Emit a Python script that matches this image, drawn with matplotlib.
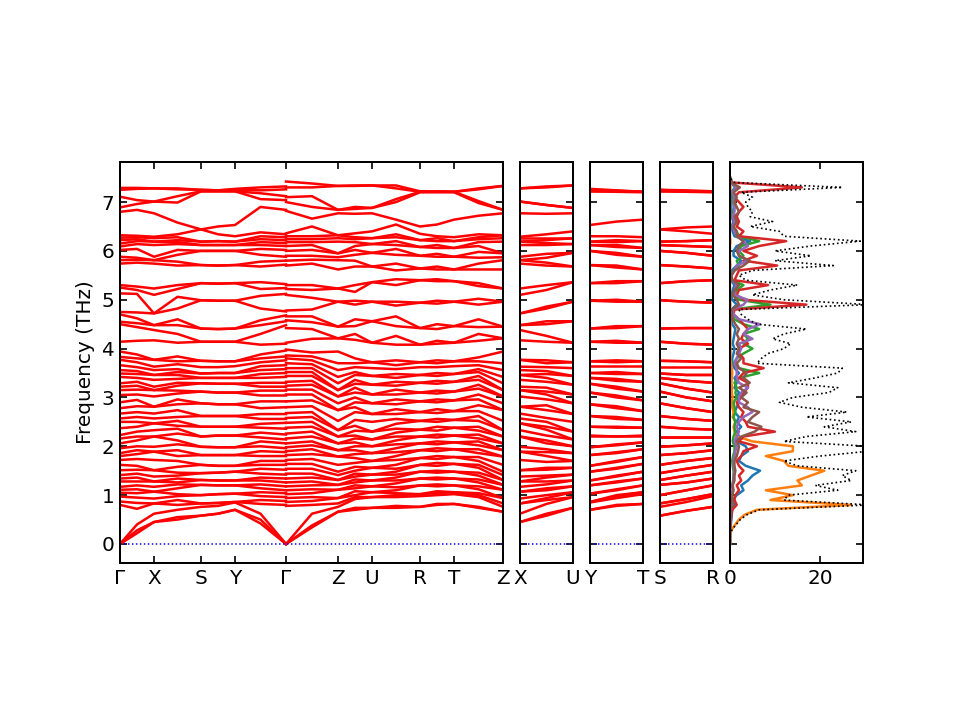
import numpy as np
import matplotlib.pyplot as plt

plt.rcParams['font.size'] = 12

# ----- k-path distances (same units as the x axes) -----
k_path1 = [0, 17, 34, 57.5, 81, 98, 115, 140.5, 166]                 # G-X-S-Y-G
k_path2 = [166, 192, 218, 235, 252, 276, 300, 317, 334, 358.5, 383]  # G-Z-U-R-T-Z
k_short = [0, 26.5, 53]                                              # X-U, Y-T, S-R
main_ticks = [0, 34, 81, 115, 166, 218, 252, 300, 334, 383]
main_labels = ['Γ', 'X', 'S', 'Y', 'Γ', 'Z', 'U', 'R', 'T', 'Z']

# ----- phonon frequencies (THz) read at each k column -----
f_G1 = [0, 0, 0,
        0.80, 0.87, 0.97, 1.05, 1.11, 1.17, 1.28, 1.34, 1.41, 1.51, 1.62, 1.72, 1.80, 1.86,
        1.96, 2.06, 2.16, 2.23, 2.37, 2.50, 2.57, 2.67, 2.78, 2.90, 3.05, 3.15, 3.22, 3.29,
        3.42, 3.49, 3.56, 3.66, 3.77, 3.83, 3.94,
        4.14, 4.50, 4.55, 4.70, 4.75, 5.13, 5.25, 5.30,
        5.74, 5.81, 5.88, 6.02, 6.09, 6.15, 6.22, 6.27, 6.32,
        6.80, 6.89, 7.11, 7.25, 7.29]
f_GX = [0.22, 0.28, 0.40,
        0.72, 0.84, 0.95, 1.04, 1.12, 1.20, 1.28, 1.36, 1.44, 1.52, 1.60, 1.74, 1.84, 1.92,
        2.00, 2.12, 2.20, 2.30, 2.40, 2.50, 2.60, 2.70, 2.82, 2.95, 3.06, 3.16, 3.24, 3.32,
        3.40, 3.48, 3.54, 3.62, 3.72, 3.80, 3.88,
        4.16, 4.44, 4.52, 4.62, 4.74, 5.12, 5.20, 5.27,
        5.76, 5.82, 5.86, 6.04, 6.14, 6.20, 6.24, 6.28, 6.31,
        6.84, 6.96, 7.04, 7.27, 7.29]
f_X = [0.45, 0.45, 0.62,
       0.83, 0.83, 0.93, 1.07, 1.07, 1.17, 1.28, 1.28, 1.38, 1.51, 1.51, 1.72, 1.89, 1.89,
       1.99, 2.20, 2.20, 2.33, 2.47, 2.47, 2.57, 2.67, 2.81, 2.81, 3.02, 3.15, 3.15, 3.22,
       3.36, 3.46, 3.46, 3.56, 3.63, 3.77, 3.77,
       4.17, 4.38, 4.48, 4.48, 4.72, 4.72, 5.10, 5.23,
       5.74, 5.81, 5.81, 5.88, 6.12, 6.19, 6.19, 6.26, 6.29,
       6.77, 7.01, 7.01, 7.28, 7.28]
f_XS = [0.50, 0.55, 0.70,
        0.80, 0.90, 0.98, 1.02, 1.14, 1.22, 1.26, 1.34, 1.40, 1.46, 1.58, 1.70, 1.80, 1.92,
        2.04, 2.12, 2.26, 2.36, 2.42, 2.52, 2.60, 2.74, 2.86, 2.96, 3.08, 3.14, 3.24, 3.30,
        3.38, 3.46, 3.52, 3.58, 3.68, 3.74, 3.84,
        4.12, 4.30, 4.48, 4.60, 4.82, 5.06, 5.22, 5.30,
        5.70, 5.78, 5.92, 6.02, 6.14, 6.18, 6.22, 6.28, 6.34,
        6.58, 6.99, 7.12, 7.26, 7.28]
f_S = [0.58, 0.58, 0.76,
       0.83, 0.83, 1.00, 1.00, 1.21, 1.21, 1.31, 1.31, 1.45, 1.45, 1.62, 1.62, 1.82, 1.82,
       1.99, 1.99, 2.20, 2.20, 2.40, 2.40, 2.62, 2.62, 2.88, 2.88, 3.12, 3.12, 3.29, 3.29,
       3.40, 3.40, 3.49, 3.49, 3.62, 3.75, 3.75,
       4.14, 4.14, 4.41, 4.41, 4.99, 4.99, 5.34, 5.34,
       5.71, 5.71, 6.00, 6.00, 6.12, 6.12, 6.19, 6.19, 6.44,
       6.44, 7.22, 7.22, 7.25, 7.25]
f_SY = [0.62, 0.62, 0.78,
        0.84, 0.84, 1.02, 1.02, 1.20, 1.20, 1.30, 1.30, 1.46, 1.46, 1.60, 1.60, 1.82, 1.82,
        1.98, 1.98, 2.22, 2.22, 2.40, 2.40, 2.62, 2.62, 2.86, 2.86, 3.10, 3.10, 3.28, 3.28,
        3.40, 3.40, 3.50, 3.50, 3.62, 3.74, 3.74,
        4.14, 4.14, 4.40, 4.40, 4.98, 4.98, 5.33, 5.33,
        5.70, 5.70, 6.00, 6.00, 6.12, 6.12, 6.20, 6.20, 6.34,
        6.50, 7.22, 7.22, 7.24, 7.24]
f_Y = [0.70, 0.70, 0.85,
       0.86, 0.86, 1.03, 1.03, 1.20, 1.20, 1.30, 1.30, 1.48, 1.48, 1.60, 1.60, 1.82, 1.82,
       1.98, 1.98, 2.22, 2.22, 2.40, 2.40, 2.62, 2.62, 2.86, 2.86, 3.10, 3.10, 3.28, 3.28,
       3.40, 3.40, 3.50, 3.50, 3.64, 3.74, 3.74,
       4.14, 4.14, 4.41, 4.41, 4.98, 4.98, 5.34, 5.34,
       5.71, 5.71, 6.00, 6.00, 6.12, 6.12, 6.19, 6.19, 6.30,
       6.53, 7.22, 7.22, 7.25, 7.27]
f_YG = [0.42, 0.50, 0.62,
        0.82, 0.90, 0.98, 1.06, 1.14, 1.22, 1.30, 1.36, 1.44, 1.54, 1.62, 1.70, 1.80, 1.90,
        2.00, 2.10, 2.18, 2.28, 2.38, 2.46, 2.56, 2.66, 2.78, 2.92, 3.04, 3.14, 3.22, 3.30,
        3.40, 3.48, 3.56, 3.64, 3.72, 3.80, 3.88,
        4.08, 4.30, 4.48, 4.58, 4.82, 5.08, 5.22, 5.36,
        5.68, 5.78, 5.92, 6.04, 6.12, 6.18, 6.24, 6.30, 6.38,
        6.90, 7.06, 7.18, 7.24, 7.30]
f_G2 = [0, 0, 0,
        0.80, 0.88, 0.96, 1.04, 1.10, 1.18, 1.26, 1.34, 1.42, 1.52, 1.62, 1.70, 1.80, 1.88,
        1.96, 2.06, 2.14, 2.24, 2.36, 2.48, 2.56, 2.66, 2.80, 2.92, 3.04, 3.14, 3.22, 3.30,
        3.42, 3.50, 3.58, 3.66, 3.76, 3.84, 3.96,
        4.10, 4.48, 4.56, 4.68, 4.76, 5.12, 5.24, 5.32,
        5.72, 5.80, 5.88, 6.02, 6.10, 6.16, 6.22, 6.28, 6.34,
        6.84, 7.04, 7.12, 7.26, 7.32]
f_G3 = [0, 0, 0,
        0.78, 0.86, 0.94, 1.02, 1.10, 1.18, 1.26, 1.34, 1.44, 1.54, 1.64, 1.72, 1.82, 1.90,
        1.98, 2.06, 2.16, 2.26, 2.38, 2.48, 2.58, 2.68, 2.80, 2.92, 3.06, 3.16, 3.24, 3.32,
        3.44, 3.52, 3.60, 3.70, 3.80, 3.86, 3.98,
        4.12, 4.42, 4.58, 4.66, 4.78, 5.10, 5.22, 5.30,
        5.70, 5.80, 5.90, 6.00, 6.10, 6.18, 6.24, 6.30, 6.36,
        6.82, 7.00, 7.10, 7.30, 7.42]
f_GZ = [0.34, 0.38, 0.62,
        0.80, 0.88, 0.96, 1.04, 1.12, 1.20, 1.28, 1.36, 1.44, 1.54, 1.64, 1.74, 1.84, 1.94,
        2.02, 2.10, 2.20, 2.30, 2.40, 2.50, 2.60, 2.70, 2.82, 2.94, 3.06, 3.16, 3.26, 3.34,
        3.44, 3.52, 3.60, 3.68, 3.76, 3.84, 3.92,
        4.20, 4.40, 4.54, 4.66, 4.80, 5.04, 5.20, 5.30,
        5.74, 5.82, 5.90, 6.02, 6.12, 6.18, 6.24, 6.30, 6.50,
        6.66, 6.90, 7.12, 7.30, 7.38]
f_Z = [0.66, 0.66, 0.76,
       0.83, 0.94, 0.94, 1.11, 1.11, 1.21, 1.21, 1.31, 1.31, 1.41, 1.48, 1.62, 1.79, 1.79,
       1.92, 1.92, 2.06, 2.06, 2.20, 2.20, 2.33, 2.33, 2.52, 2.74, 2.74, 2.88, 3.02, 3.02,
       3.15, 3.15, 3.29, 3.42, 3.56, 3.70, 3.94,
       4.21, 4.21, 4.45, 4.45, 4.96, 4.96, 5.23, 5.23,
       5.62, 5.81, 5.87, 5.95, 5.95, 6.19, 6.26, 6.32, 6.32,
       6.77, 6.84, 6.84, 7.33, 7.33]
f_ZU = [0.70, 0.74, 0.92,
        0.96, 1.00, 1.08, 1.14, 1.20, 1.26, 1.32, 1.38, 1.44, 1.50, 1.58, 1.66, 1.76, 1.84,
        1.92, 2.00, 2.08, 2.16, 2.22, 2.32, 2.42, 2.54, 2.70, 2.80, 2.90, 3.00, 3.10, 3.20,
        3.28, 3.36, 3.46, 3.52, 3.62, 3.70, 3.80,
        4.18, 4.30, 4.46, 4.60, 4.90, 4.98, 5.16, 5.30,
        5.68, 5.80, 5.92, 6.02, 6.10, 6.18, 6.24, 6.28, 6.36,
        6.76, 6.86, 6.90, 7.33, 7.34]
f_U = [0.74, 0.74, 0.96,
       0.96, 1.06, 1.06, 1.18, 1.18, 1.30, 1.30, 1.42, 1.42, 1.56, 1.56, 1.70, 1.70, 1.86,
       1.86, 2.00, 2.00, 2.14, 2.14, 2.30, 2.30, 2.50, 2.66, 2.66, 2.88, 2.88, 3.06, 3.06,
       3.26, 3.26, 3.44, 3.44, 3.60, 3.72, 3.72,
       4.12, 4.12, 4.56, 4.56, 4.96, 4.96, 5.36, 5.36,
       5.68, 5.68, 5.96, 5.96, 6.14, 6.14, 6.26, 6.26, 6.40,
       6.77, 6.88, 6.88, 7.34, 7.34]
f_UR = [0.74, 0.78, 0.96,
        1.00, 1.04, 1.10, 1.16, 1.24, 1.30, 1.36, 1.42, 1.48, 1.54, 1.62, 1.72, 1.80, 1.88,
        1.96, 2.04, 2.12, 2.20, 2.28, 2.36, 2.46, 2.56, 2.66, 2.76, 2.86, 2.96, 3.06, 3.16,
        3.24, 3.32, 3.40, 3.48, 3.58, 3.66, 3.76,
        4.08, 4.26, 4.46, 4.66, 4.88, 4.96, 5.30, 5.42,
        5.60, 5.74, 5.92, 6.04, 6.12, 6.20, 6.28, 6.34, 6.54,
        6.64, 7.00, 7.06, 7.28, 7.34]
f_R = [0.76, 0.76, 0.98,
       1.02, 1.02, 1.20, 1.20, 1.34, 1.34, 1.48, 1.48, 1.62, 1.62, 1.76, 1.76, 1.92, 1.92,
       2.06, 2.06, 2.20, 2.20, 2.34, 2.34, 2.52, 2.52, 2.70, 2.70, 2.92, 2.92, 3.10, 3.10,
       3.30, 3.30, 3.46, 3.46, 3.62, 3.72, 3.72,
       4.08, 4.08, 4.42, 4.42, 4.94, 4.94, 5.40, 5.40,
       5.64, 5.64, 5.90, 5.90, 6.08, 6.08, 6.22, 6.22, 6.35,
       6.50, 7.20, 7.21, 7.21, 7.22]
f_RT = [0.80, 0.82, 1.00,
        1.04, 1.08, 1.18, 1.22, 1.32, 1.36, 1.46, 1.50, 1.60, 1.66, 1.74, 1.80, 1.90, 1.96,
        2.04, 2.10, 2.18, 2.24, 2.32, 2.40, 2.50, 2.56, 2.68, 2.76, 2.90, 2.96, 3.08, 3.14,
        3.28, 3.34, 3.44, 3.50, 3.62, 3.70, 3.76,
        4.10, 4.16, 4.40, 4.50, 4.92, 4.98, 5.38, 5.42,
        5.62, 5.68, 5.88, 5.94, 6.06, 6.12, 6.20, 6.26, 6.30,
        6.54, 7.20, 7.21, 7.21, 7.22]
f_T = [0.82, 0.82, 1.02,
       1.06, 1.06, 1.20, 1.20, 1.34, 1.34, 1.48, 1.48, 1.64, 1.64, 1.78, 1.78, 1.94, 1.94,
       2.08, 2.08, 2.22, 2.22, 2.38, 2.38, 2.54, 2.54, 2.72, 2.72, 2.94, 2.94, 3.12, 3.12,
       3.32, 3.32, 3.48, 3.48, 3.64, 3.74, 3.74,
       4.12, 4.12, 4.46, 4.46, 4.96, 4.96, 5.38, 5.38,
       5.62, 5.62, 5.88, 5.88, 6.06, 6.06, 6.20, 6.20, 6.28,
       6.64, 7.20, 7.21, 7.21, 7.21]
f_TZ = [0.74, 0.76, 0.96,
        1.00, 1.04, 1.12, 1.18, 1.26, 1.32, 1.40, 1.46, 1.56, 1.62, 1.70, 1.78, 1.86, 1.94,
        2.02, 2.10, 2.16, 2.24, 2.32, 2.40, 2.52, 2.62, 2.72, 2.84, 2.96, 3.06, 3.18, 3.26,
        3.36, 3.44, 3.52, 3.58, 3.66, 3.74, 3.82,
        4.16, 4.30, 4.44, 4.60, 4.90, 5.02, 5.28, 5.34,
        5.62, 5.74, 5.86, 5.98, 6.10, 6.18, 6.24, 6.28, 6.34,
        6.72, 6.98, 7.02, 7.26, 7.28]
f_XU = [0.58, 0.62, 0.82,
        0.90, 0.94, 1.00, 1.10, 1.14, 1.22, 1.28, 1.36, 1.40, 1.52, 1.56, 1.68, 1.80, 1.88,
        1.94, 2.06, 2.12, 2.22, 2.34, 2.40, 2.50, 2.58, 2.74, 2.84, 2.96, 3.06, 3.12, 3.20,
        3.32, 3.40, 3.48, 3.54, 3.62, 3.70, 3.76,
        4.14, 4.26, 4.50, 4.56, 4.82, 4.86, 5.20, 5.30,
        5.70, 5.76, 5.86, 5.94, 6.12, 6.16, 6.22, 6.26, 6.34,
        6.76, 6.94, 6.94, 7.30, 7.32]
f_YT = [0.78, 0.80, 0.94,
        0.98, 1.00, 1.10, 1.12, 1.26, 1.28, 1.38, 1.40, 1.54, 1.56, 1.68, 1.70, 1.86, 1.88,
        2.02, 2.04, 2.20, 2.22, 2.38, 2.40, 2.56, 2.60, 2.78, 2.82, 3.00, 3.04, 3.18, 3.22,
        3.34, 3.38, 3.48, 3.52, 3.64, 3.72, 3.76,
        4.12, 4.16, 4.42, 4.46, 4.96, 5.00, 5.34, 5.38,
        5.66, 5.70, 5.92, 5.96, 6.08, 6.12, 6.18, 6.22, 6.30,
        6.60, 7.21, 7.22, 7.23, 7.24]
f_SR = [0.68, 0.68, 0.86,
        0.92, 0.92, 1.10, 1.10, 1.26, 1.26, 1.40, 1.40, 1.54, 1.54, 1.70, 1.70, 1.86, 1.86,
        2.02, 2.02, 2.20, 2.20, 2.36, 2.36, 2.56, 2.56, 2.78, 2.78, 3.00, 3.00, 3.18, 3.18,
        3.34, 3.34, 3.46, 3.46, 3.62, 3.74, 3.74,
        4.10, 4.10, 4.42, 4.42, 4.96, 4.96, 5.38, 5.38,
        5.68, 5.68, 5.96, 5.96, 6.10, 6.10, 6.20, 6.20, 6.40,
        6.48, 7.21, 7.22, 7.22, 7.24]

# ----- density of states (states/THz) on a 0.1 THz grid -----
dos_freq = np.round(np.arange(0, 7.55, 0.1), 2)
dos_total = [0, 0, 0, 0.5, 1.4, 2.3, 3.8, 6.5, 31, 12,
             13, 24, 19, 27, 25, 28, 15, 12, 20, 31,
             31, 12, 17, 28, 21, 27, 17, 26, 16, 11,
             14, 22, 24, 13, 19, 24, 25, 6, 7, 8.5,
             12, 13.5, 9.5, 12, 17, 6, 4, 2.5, 2, 31,
             12, 5, 9, 15, 3.5, 2, 5, 23, 10, 18,
             10, 18, 29, 12, 11, 4.5, 9.5, 4.5, 5, 4,
             3.5, 5, 2.5, 25, 1, 0]
pdos_1 = [0, 0, 0, 0.1, 0.2, 0.3, 0.4, 0.5, 1.0, 0.5,
          1.5, 3, 2.5, 4, 5, 6.7, 3.5, 2, 2.5, 4,
          3.5, 1.5, 2, 1.5, 2.5, 1.5, 2, 1, 1.5, 2,
          1.5, 2, 1, 1.5, 1, 2, 1, 0.5, 0.5, 0.8,
          1, 0.6, 0.8, 1, 1.2, 0.5, 0.3, 0.2, 0.3, 1.5,
          0.5, 0.3, 0.6, 1, 0.2, 0.1, 0.4, 1.5, 2.5, 0.8,
          0.8, 1.5, 4.5, 1, 0.6, 0.3, 0.8, 0.3, 0.4, 0.3,
          0.3, 0.4, 0.2, 1.2, 0.1, 0]
pdos_2 = [0, 0, 0, 0.4, 1.2, 2.0, 3.3, 6.0, 27, 9,
          14, 8, 16, 15, 18, 21, 13, 12, 8, 14,
          14, 5, 1.5, 1.0, 0.8, 1.2, 0.6, 0.8, 0.5, 0.4,
          0.6, 0.4, 0.5, 0.3, 0.4, 0.5, 0.4, 0.2, 0.1, 0.1,
          0.1, 0.1, 0.1, 0.1, 0.1, 0.1, 0, 0, 0, 0.1,
          0, 0, 0, 0, 0, 0, 0, 0.1, 0, 0,
          0, 0, 0.1, 0, 0, 0, 0, 0, 0, 0,
          0, 0, 0, 0.1, 0, 0]
pdos_3 = [0, 0, 0, 0, 0.1, 0.1, 0.2, 0.3, 0.6, 0.3,
          0.5, 0.6, 0.5, 0.7, 0.8, 0.8, 0.6, 0.5, 0.7, 1,
          1, 0.6, 0.8, 1.2, 1, 1.2, 0.8, 1.2, 1, 0.8,
          1.5, 1.2, 1.5, 1, 2, 6.5, 2, 0.8, 1.5, 3,
          5, 3, 4, 3, 6.5, 3, 1, 0.5, 0.6, 9,
          2, 0.8, 1.5, 3, 0.5, 0.3, 1, 2, 1.5, 3,
          2, 2.5, 6.5, 2, 1.5, 0.6, 1.5, 0.6, 0.8, 1,
          0.6, 0.8, 0.4, 1.5, 0.1, 0]
pdos_4 = [0, 0, 0, 0.05, 0.1, 0.2, 0.3, 0.5, 1.5, 1,
          1.2, 2, 1.5, 2.5, 2, 3, 2, 1.5, 2.5, 3,
          6, 2, 3, 10, 4, 3.5, 2.5, 3, 2, 1.5,
          2.5, 3, 4, 4, 2, 3, 7.5, 3, 3, 2,
          2, 4, 2.5, 3, 4, 3, 2, 0.8, 1, 17,
          3, 1.5, 2, 8.5, 1, 1.5, 2, 10.5, 3, 6,
          3, 6.5, 12.5, 2, 3, 1.5, 2, 1.5, 2, 3,
          2, 1, 2, 16, 0.5, 0]
pdos_5 = [0, 0, 0, 0, 0.05, 0.1, 0.1, 0.2, 0.5, 0.3,
          0.4, 0.6, 0.5, 0.8, 0.8, 1, 0.8, 0.8, 1, 1.2,
          1.5, 1, 1.5, 2, 1.5, 2, 3, 5, 4, 2,
          2, 2.5, 4, 2, 1.5, 1.5, 1.5, 1, 1.5, 2,
          2.5, 2, 5, 3, 4, 6.7, 2, 0.8, 0.6, 3,
          3.9, 1, 1, 1.5, 0.4, 0.3, 1, 1.5, 4, 2,
          2, 4, 3, 1.5, 1, 0.6, 1, 0.6, 1, 1,
          0.8, 1, 0.5, 1.5, 0.1, 0]
pdos_6 = [0, 0, 0, 0, 0.05, 0.1, 0.1, 0.2, 0.6, 0.4,
          0.5, 0.8, 0.6, 1, 1, 1.2, 1, 1, 1.5, 1.8,
          2, 1.5, 2.5, 5.5, 7, 4, 5, 6.5, 3, 4,
          2.5, 3.7, 2, 4.4, 3, 3.7, 2, 1.5, 2.5, 1.5,
          2, 1.5, 2, 1.5, 2, 1.2, 0.6, 0.4, 0.5, 2,
          1.5, 0.6, 1, 2, 0.5, 0.3, 1, 3, 4.4, 2,
          1.5, 2, 3, 1.5, 1.5, 0.8, 1.5, 1, 2, 1.5,
          1, 1.5, 0.8, 2.2, 0.2, 0]
pdos_list = [pdos_1, pdos_2, pdos_3, pdos_4, pdos_5, pdos_6]

all_cols = [f_G1, f_GX, f_X, f_XS, f_S, f_SY, f_Y, f_YG, f_G2, f_G3, f_GZ, f_Z,
            f_ZU, f_U, f_UR, f_R, f_RT, f_T, f_TZ, f_XU, f_YT, f_SR]
assert all(len(c) == 60 for c in all_cols), [len(c) for c in all_cols]
assert all(len(d) == len(dos_freq) for d in pdos_list + [dos_total])

ylim = (-0.39, 7.82)


def draw_bands(ax, k, cols):
    bands = np.sort(np.array(cols, dtype=float), axis=1).T
    for b in bands:
        ax.plot(k, b, color='red', lw=1.5)


def style(ax):
    ax.set_ylim(*ylim)
    ax.set_yticks(range(8))
    ax.tick_params(direction='in', top=True, right=True, length=4, width=1)
    for s in ax.spines.values():
        s.set_linewidth(1.2)


fig = plt.figure(figsize=(8, 6), dpi=120)

# main panel
ax = fig.add_axes([0.125, 0.218, 0.399, 0.557])
draw_bands(ax, k_path1, [f_G1, f_GX, f_X, f_XS, f_S, f_SY, f_Y, f_YG, f_G2])
draw_bands(ax, k_path2, [f_G3, f_GZ, f_Z, f_ZU, f_U, f_UR, f_R, f_RT, f_T, f_TZ, f_Z])
ax.axhline(0, color='blue', ls=':', lw=0.9)
ax.set_xlim(0, 383)
ax.set_xticks(main_ticks)
ax.set_xticklabels(main_labels)
style(ax)
ax.set_ylabel('Frequency (THz)')

# short segments
short_panels = [(0.5417, [f_X, f_XU, f_U], ['X', 'U']),
                (0.6146, [f_Y, f_YT, f_T], ['Y', 'T']),
                (0.6875, [f_S, f_SR, f_R], ['S', 'R'])]
for left, cols, labels in short_panels:
    a = fig.add_axes([left, 0.218, 0.0552, 0.557])
    draw_bands(a, k_short, cols)
    a.axhline(0, color='blue', ls=':', lw=0.9)
    a.set_xlim(0, 53)
    a.set_xticks([0, 53])
    a.set_xticklabels(labels)
    style(a)
    a.set_yticklabels([])

# DOS panel
ad = fig.add_axes([0.7604, 0.218, 0.1385, 0.557])
for i, p in enumerate(pdos_list):
    ad.plot(p, dos_freq, color='C%d' % i, lw=1.5)
ad.plot(dos_total, dos_freq, color='black', ls=':', lw=1.0)
ad.set_xlim(0, 29.6)
ad.set_xticks([0, 20])
style(ad)
ad.set_yticklabels([])

fig.savefig('out.png', dpi=120)
